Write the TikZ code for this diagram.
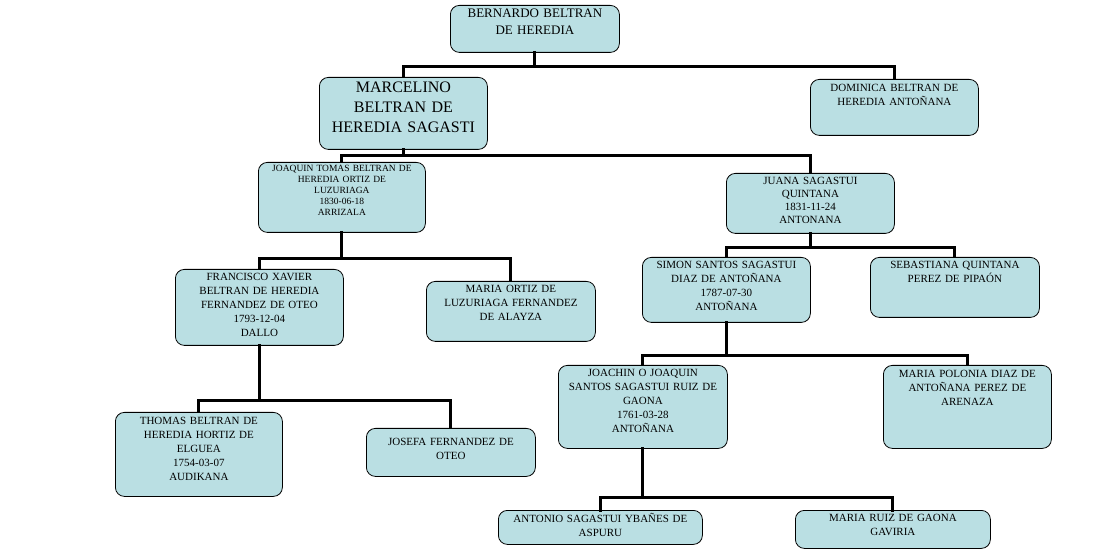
\documentclass[tikz,border=0pt]{standalone}
\usepackage{fontspec}
\setmainfont{Liberation Serif}
\begin{document}
\begin{tikzpicture}[x=1pt,y=-1pt,
  box/.style={draw=black, line width=0.8pt, fill=boxc, rounded corners=9pt, anchor=north west, inner sep=0pt},
  txt/.style={anchor=north, align=center, inner sep=0pt, text=black},
  link/.style={line width=3pt, line cap=rect}]
\definecolor{boxc}{HTML}{BADFE3}
\useasboundingbox (0,0) rectangle (1120,553);
\newcommand{\pbox}[7]{%
  \node[box, minimum width=#3pt, minimum height=#4pt] (#1) at (#2) {};
  \node[txt, text width=#3pt, font=#6] (#1t) at ([yshift=-#5pt]#1.north) {#7};}
% connectors first
\begin{scope}[on background layer/.style={}]
\end{scope}
\pbox{b1}{450,5}{169}{47}{4}{\fontsize{13}{17}\selectfont}{BERNARDO BELTRAN\\DE HEREDIA}
\pbox{marc}{319,77}{168}{72}{5}{\fontsize{16}{20}\selectfont}{MARCELINO\\BELTRAN DE\\HEREDIA SAGASTI}
\pbox{dom}{810,79}{168}{56}{5}{\fontsize{11}{14}\selectfont}{DOMINICA BELTRAN DE\\HEREDIA ANTOÑANA}
\pbox{jt}{258,162}{167}{70}{3}{\fontsize{9.5}{11}\selectfont}{JOAQUIN TOMAS BELTRAN DE\\HEREDIA ORTIZ DE\\LUZURIAGA\\1830-06-18\\ARRIZALA}
\pbox{ju}{726,173}{168}{60}{4}{\fontsize{11}{13}\selectfont}{JUANA SAGASTUI\\QUINTANA\\1831-11-24\\ANTONANA}
\pbox{fx}{175,269}{168}{76}{4}{\fontsize{11}{14}\selectfont}{FRANCISCO XAVIER\\BELTRAN DE HEREDIA\\FERNANDEZ DE OTEO\\1793-12-04\\DALLO}
\pbox{mo}{426,281}{169}{60}{4}{\fontsize{11}{14}\selectfont}{MARIA ORTIZ DE\\LUZURIAGA FERNANDEZ\\DE ALAYZA}
\pbox{si}{642,257}{168}{65}{4}{\fontsize{11}{14}\selectfont}{SIMON SANTOS SAGASTUI\\DIAZ DE ANTOÑANA\\1787-07-30\\ANTOÑANA}
\pbox{se}{870,257}{169}{60}{4}{\fontsize{11}{14}\selectfont}{SEBASTIANA QUINTANA\\PEREZ DE PIPAÓN}
\pbox{jo}{558,365}{169}{83}{4}{\fontsize{11}{14}\selectfont}{JOACHIN O JOAQUIN\\SANTOS SAGASTUI RUIZ DE\\GAONA\\1761-03-28\\ANTOÑANA}
\pbox{mp}{883,365}{168}{83}{5}{\fontsize{11}{14}\selectfont}{MARIA POLONIA DIAZ DE\\ANTOÑANA PEREZ DE\\ARENAZA}
\pbox{th}{115,412}{167}{84}{5}{\fontsize{11}{14}\selectfont}{THOMAS BELTRAN DE\\HEREDIA HORTIZ DE\\ELGUEA\\1754-03-07\\AUDIKANA}
\pbox{jf}{366,428}{169}{48}{10}{\fontsize{11}{14}\selectfont}{JOSEFA FERNANDEZ DE\\OTEO}
\pbox{an}{498,510}{204}{34}{3}{\fontsize{11}{14}\selectfont}{ANTONIO SAGASTUI YBAÑES DE\\ASPURU}
\pbox{mr}{795,510}{195}{38}{4}{\fontsize{11}{14}\selectfont}{MARIA RUIZ DE GAONA\\GAVIRIA}
% connectors
\draw[link] (b1.south) -- ++(0,14) -| (marc.north);
\draw[link] (b1.south) -- ++(0,14) -| (dom.north);
\draw[link] (marc.south) -- ++(0,6) -| (jt.north);
\draw[link] (marc.south) -- ++(0,6) -| (ju.north);
\draw[link] (jt.south) -- ++(0,26) -| (fx.north);
\draw[link] (jt.south) -- ++(0,26) -| (mo.north);
\draw[link] (ju.south) -- ++(0,14) -| (si.north);
\draw[link] (ju.south) -- ++(0,14) -| (se.north);
\draw[link] (fx.south) -- ++(0,55) -| (th.north);
\draw[link] (fx.south) -- ++(0,55) -| (jf.north);
\draw[link] (si.south) -- ++(0,33) -| (jo.north);
\draw[link] (si.south) -- ++(0,33) -| (mp.north);
\draw[link] (jo.south) -- ++(0,49) -| (an.north);
\draw[link] (jo.south) -- ++(0,49) -| (mr.north);
\end{tikzpicture}
\end{document}
